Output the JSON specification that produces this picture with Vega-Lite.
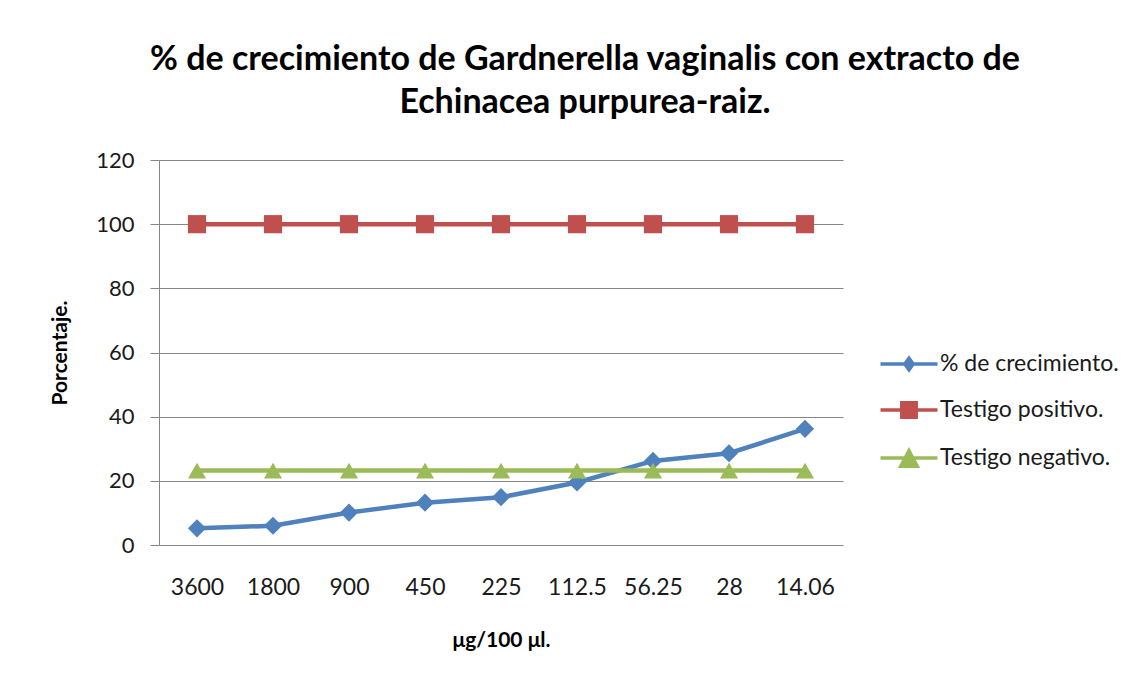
{
  "$schema": "https://vega.github.io/schema/vega-lite/v6.json",
  "width": 684,
  "height": 385,
  "autosize": {"type": "none"},
  "padding": {"left": 159, "top": 160, "right": 305, "bottom": 137},
  "background": "white",
  "config": {
    "font": "Lato",
    "view": {"stroke": null}
  },
  "title": {
    "text": ["% de crecimiento de Gardnerella vaginalis con extracto de", "Echinacea purpurea-raiz."],
    "fontSize": 34,
    "fontWeight": "bold",
    "color": "#000000",
    "anchor": "middle",
    "dx": 84,
    "offset": 29,
    "lineHeight": 43
  },
  "data": {
    "values": [
      {"conc": "3600", "series": "% de crecimiento.", "value": 5.2},
      {"conc": "1800", "series": "% de crecimiento.", "value": 6.0},
      {"conc": "900", "series": "% de crecimiento.", "value": 10.1},
      {"conc": "450", "series": "% de crecimiento.", "value": 13.2},
      {"conc": "225", "series": "% de crecimiento.", "value": 14.9},
      {"conc": "112.5", "series": "% de crecimiento.", "value": 19.5},
      {"conc": "56.25", "series": "% de crecimiento.", "value": 26.2},
      {"conc": "28", "series": "% de crecimiento.", "value": 28.6},
      {"conc": "14.06", "series": "% de crecimiento.", "value": 36.2},
      {"conc": "3600", "series": "Testigo positivo.", "value": 100},
      {"conc": "1800", "series": "Testigo positivo.", "value": 100},
      {"conc": "900", "series": "Testigo positivo.", "value": 100},
      {"conc": "450", "series": "Testigo positivo.", "value": 100},
      {"conc": "225", "series": "Testigo positivo.", "value": 100},
      {"conc": "112.5", "series": "Testigo positivo.", "value": 100},
      {"conc": "56.25", "series": "Testigo positivo.", "value": 100},
      {"conc": "28", "series": "Testigo positivo.", "value": 100},
      {"conc": "14.06", "series": "Testigo positivo.", "value": 100},
      {"conc": "3600", "series": "Testigo negativo.", "value": 23.2},
      {"conc": "1800", "series": "Testigo negativo.", "value": 23.2},
      {"conc": "900", "series": "Testigo negativo.", "value": 23.2},
      {"conc": "450", "series": "Testigo negativo.", "value": 23.2},
      {"conc": "225", "series": "Testigo negativo.", "value": 23.2},
      {"conc": "112.5", "series": "Testigo negativo.", "value": 23.2},
      {"conc": "56.25", "series": "Testigo negativo.", "value": 23.2},
      {"conc": "28", "series": "Testigo negativo.", "value": 23.2},
      {"conc": "14.06", "series": "Testigo negativo.", "value": 23.2}
    ]
  },
  "encoding": {
    "x": {
      "field": "conc",
      "type": "ordinal",
      "sort": ["3600", "1800", "900", "450", "225", "112.5", "56.25", "28", "14.06"],
      "axis": {
        "title": "μg/100 μl.",
        "titleFontSize": 21,
        "titleFontWeight": "bold",
        "titleColor": "#000000",
        "titlePadding": 30,
        "labelFontSize": 23,
        "labelColor": "#1a1a1a",
        "labelAngle": 0,
        "labelPadding": 31,
        "domain": false,
        "ticks": false,
        "grid": false
      }
    },
    "y": {
      "field": "value",
      "type": "quantitative",
      "scale": {"domain": [0, 120]},
      "axis": {
        "title": "Porcentaje.",
        "titleFontSize": 21,
        "titleFontWeight": "bold",
        "titleColor": "#000000",
        "titlePadding": 25,
        "values": [0, 20, 40, 60, 80, 100, 120],
        "labelFontSize": 22,
        "labelColor": "#1a1a1a",
        "labelPadding": 16,
        "tickSize": 9,
        "tickColor": "#868686",
        "domainColor": "#868686",
        "gridColor": "#868686",
        "gridOpacity": 1
      }
    },
    "color": {
      "field": "series",
      "type": "nominal",
      "scale": {
        "domain": ["% de crecimiento.", "Testigo positivo.", "Testigo negativo."],
        "range": ["#4F81BD", "#C0504D", "#9BBB59"]
      },
      "legend": {
        "title": null,
        "orient": "none",
        "legendX": 733,
        "legendY": 187,
        "labelFontSize": 23,
        "labelColor": "#1a1a1a",
        "labelOffset": 14,
        "labelLimit": 400,
        "symbolSize": 900,
        "symbolStrokeWidth": 3.5,
        "rowPadding": 16,
        "encode": {
          "symbols": {
            "update": {
              "shape": {"signal": "datum.value === '% de crecimiento.' ? 'M-1.9,0H1.9M0,-0.38L0.28,0L0,0.38L-0.28,0Z' : datum.value === 'Testigo positivo.' ? 'M-1.9,0H1.9M-0.48,-0.48H0.48V0.48H-0.48Z' : 'M-1.9,0H1.9M0,-0.48L0.55,0.55H-0.55Z'"},
              "fill": {"scale": "color", "field": "value"},
              "stroke": {"scale": "color", "field": "value"},
              "strokeWidth": {"value": 3.5},
              "opacity": {"value": 1},
              "fillOpacity": {"value": 1}
            }
          }
        }
      }
    }
  },
  "layer": [
    {"mark": {"type": "line", "strokeWidth": 4.5}},
    {
      "transform": [{"filter": "datum.series === '% de crecimiento.'"}],
      "mark": {"type": "point", "filled": true, "opacity": 1, "size": 330, "shape": "diamond"}
    },
    {
      "transform": [{"filter": "datum.series === 'Testigo positivo.'"}],
      "mark": {"type": "point", "filled": true, "opacity": 1, "size": 330, "shape": "square"}
    },
    {
      "transform": [{"filter": "datum.series === 'Testigo negativo.'"}],
      "mark": {"type": "point", "filled": true, "opacity": 1, "size": 330, "shape": "triangle-up"}
    }
  ]
}
